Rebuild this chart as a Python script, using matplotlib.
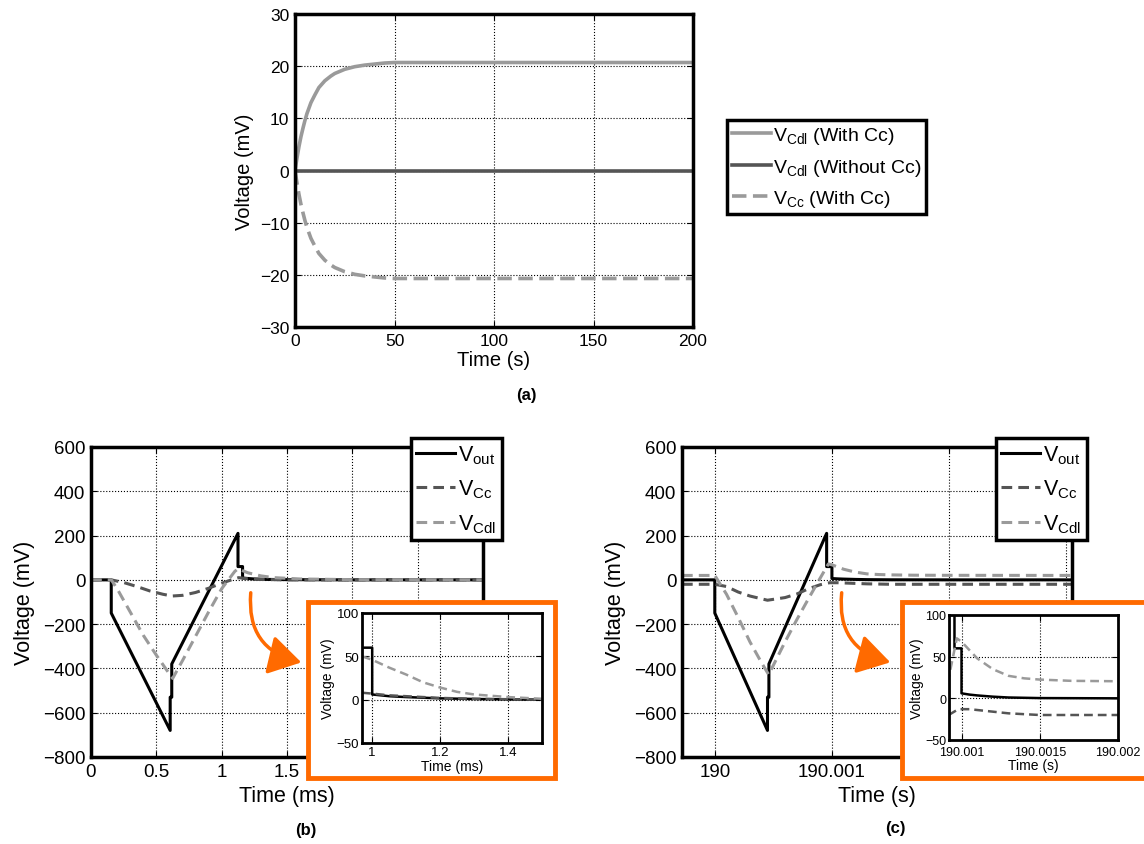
import matplotlib
matplotlib.use('Agg')
import matplotlib.pyplot as plt
from matplotlib.patches import Rectangle, FancyArrowPatch
from matplotlib.ticker import FuncFormatter

# ---- panel (a): long time response (s, mV)
t_a = [0, 1, 2, 3, 4, 5, 6, 8, 10, 12, 15, 18, 20, 25, 30, 35, 40, 45, 50, 60, 80, 100, 150, 200]
vcdl_cc_a = [0, 2.4, 4.6, 6.5, 8.1, 9.6, 10.9, 13.0, 14.5, 15.9, 17.2, 18.1, 18.6, 19.4,
             19.9, 20.2, 20.4, 20.6, 20.7, 20.7, 20.7, 20.7, 20.7, 20.7]
vcc_cc_a = [0, -2.4, -4.6, -6.5, -8.1, -9.6, -10.9, -13.0, -14.5, -15.9, -17.2, -18.1, -18.6, -19.4,
            -19.9, -20.2, -20.4, -20.6, -20.7, -20.7, -20.7, -20.7, -20.7, -20.7]
t_flat_a = [0, 200]
vcdl_nocc_a = [0, 0]
labels_a = [r'V$_{\mathrm{Cdl}}$ (With Cc)', r'V$_{\mathrm{Cdl}}$ (Without Cc)', r'V$_{\mathrm{Cc}}$ (With Cc)']

# ---- panel (b): first pulse (ms, mV)
t_out_b = [0, 0.155, 0.155, 0.606, 0.606, 0.618, 0.618, 1.125, 1.125, 1.16, 1.16, 1.25, 1.35, 1.5, 2.0, 3.0]
v_out_b = [0, 0, -150, -680, -530, -530, -380, 210, 60, 60, 8, 4, 2, 1, 0, 0]
t_cc_b = [0, 0.155, 0.25, 0.35, 0.45, 0.55, 0.62, 0.7, 0.8, 0.9, 1.0, 1.1, 1.13, 1.2, 1.3, 1.5, 3.0]
v_cc_b = [0, 0, -12, -30, -50, -65, -73, -70, -57, -38, -15, 5, 10, 5, 2, 0, 0]
t_cdl_b = [0, 0.155, 0.2, 0.3, 0.4, 0.5, 0.6, 0.625, 0.7, 0.8, 0.9, 1.0, 1.1, 1.125,
           1.2, 1.3, 1.4, 1.6, 2.0, 3.0]
v_cdl_b = [0, 0, -40, -145, -250, -340, -425, -445, -365, -255, -145, -40, 38, 50,
           32, 18, 10, 4, 1, 0]
ticks_b = [0, 0.5, 1, 1.5, 2, 2.5, 3]
ticklabels_b = ['0', '0.5', '1', '1.5', '', '', '']   # the rest sit under the inset

# inset of (b)
t_out_ib = [0.97, 1.0, 1.0, 1.05, 1.1, 1.2, 1.3, 1.4, 1.5]
v_out_ib = [60, 60, 6, 4, 3, 1.5, 0.8, 0.3, 0]
t_cc_ib = [0.97, 1.0, 1.05, 1.1, 1.2, 1.3, 1.4, 1.5]
v_cc_ib = [8, 7, 5, 4, 2, 1, 0.5, 0]
t_cdl_ib = [0.97, 1.0, 1.05, 1.1, 1.15, 1.2, 1.25, 1.3, 1.4, 1.5]
v_cdl_ib = [50, 46, 37, 29, 20, 14, 9, 6, 3, 1]

# ---- panel (c): pulse after 190 s (s, mV)
t_out_c = [189.99972, 190.0, 190.0, 190.00045, 190.00045, 190.000462, 190.000462, 190.000955,
           190.000955, 190.001, 190.001, 190.00105, 190.0011, 190.0012, 190.0013, 190.0015,
           190.002, 190.00305]
v_out_c = [0, 0, -150, -680, -530, -530, -380, 210, 60, 60, 6, 4.5, 3.5, 2, 1, 0.3, 0, 0]
t_cc_c = [189.99972, 190.0, 190.0001, 190.0002, 190.0003, 190.00045, 190.0006, 190.0007,
          190.0008, 190.0009, 190.00098, 190.00105, 190.0011, 190.0012, 190.0013, 190.0015,
          190.002, 190.00305]
v_cc_c = [-20, -20, -30, -55, -73, -92, -80, -64, -40, -22, -13, -13, -14, -16, -18, -20, -20, -20]
t_cdl_c = [189.99972, 190.0, 190.0001, 190.0002, 190.0003, 190.0004, 190.00046, 190.0006,
           190.0007, 190.0008, 190.0009, 190.00097, 190.001, 190.00105, 190.0011, 190.0012,
           190.0013, 190.0014, 190.0015, 190.0017, 190.002, 190.00305]
v_cdl_c = [20, 20, -65, -170, -280, -375, -428, -280, -180, -85, 8, 72, 68, 58, 48, 35,
           27, 24, 22.5, 21, 20.5, 20]
ticks_c = [190, 190.001, 190.002, 190.003]
ticklabels_c = ['190', '190.001', '', '']   # the rest sit under the inset

labels_bc = [r'V$_{\mathrm{out}}$', r'V$_{\mathrm{Cc}}$', r'V$_{\mathrm{Cdl}}$']

LIGHT = '#9a9a9a'
DARK = '#555555'
ORANGE = '#ff6a00'
W, H = 1144, 845

plt.rcParams['font.family'] = ['Liberation Sans', 'DejaVu Sans']
plt.rcParams['mathtext.fontset'] = 'custom'
plt.rcParams['mathtext.rm'] = 'Liberation Sans'
plt.rcParams['mathtext.it'] = 'Liberation Sans:italic'
plt.rcParams['mathtext.bf'] = 'Liberation Sans:bold'
plt.rcParams['axes.unicode_minus'] = True


def px_axes(fig, left, top, right, bottom):
    # place an axes from pixel box (y measured from the top)
    return fig.add_axes([left / W, 1 - bottom / H, (right - left) / W, (bottom - top) / H])


def style(ax, spine_lw, tick_size):
    for s in ax.spines.values():
        s.set_linewidth(spine_lw)
    ax.tick_params(direction='in', top=True, right=True, length=4, width=0.8,
                   labelsize=tick_size, pad=4)
    ax.grid(True, linestyle=':', color='k', linewidth=0.8)
    ax.set_axisbelow(True)


def three_lines(ax, data, lw, dash):
    (to, vo), (tc, vc), (td, vd) = data
    h1, = ax.plot(to, vo, color='k', lw=lw)
    h2, = ax.plot(tc, vc, color=DARK, lw=lw, dashes=dash)
    h3, = ax.plot(td, vd, color=LIGHT, lw=lw, dashes=dash)
    return [h1, h2, h3]


fmt7 = FuncFormatter(lambda v, p: '{:.7g}'.format(v))

fig = plt.figure(figsize=(W / 100, H / 100), dpi=100)

# ---------------- (a)
ax_a = px_axes(fig, 295, 15, 693, 328)
style(ax_a, 2.5, 12.5)
l1, = ax_a.plot(t_a, vcdl_cc_a, color=LIGHT, lw=2.6)
l2, = ax_a.plot(t_flat_a, vcdl_nocc_a, color=DARK, lw=2.6)
l3, = ax_a.plot(t_a, vcc_cc_a, color=LIGHT, lw=2.6, dashes=(4, 1.8))
ax_a.set_xlim(0, 200)
ax_a.set_ylim(-30, 30)
ax_a.set_xticks([0, 50, 100, 150, 200])
ax_a.set_yticks([-30, -20, -10, 0, 10, 20, 30])
ax_a.set_xlabel('Time (s)', fontsize=14.5, labelpad=2)
ax_a.set_ylabel('Voltage (mV)', fontsize=14.5, labelpad=4)
leg_a = fig.legend([l1, l2, l3], labels_a, loc='upper left',
                   bbox_to_anchor=(727 / W, 1 - 121 / H), fontsize=14,
                   frameon=True, fancybox=False, framealpha=1, borderpad=0.25,
                   labelspacing=0.55, handlelength=2.0, handletextpad=0.1, borderaxespad=0)
leg_a.get_frame().set_edgecolor('k')
leg_a.get_frame().set_linewidth(2.5)
fig.text(526 / W, 1 - 396 / H, '(a)', fontsize=12, fontweight='bold', ha='center', va='center')

# ---------------- (b)
ax_b = px_axes(fig, 91, 448, 483, 758)
style(ax_b, 2.5, 13.5)
hb = three_lines(ax_b, [(t_out_b, v_out_b), (t_cc_b, v_cc_b), (t_cdl_b, v_cdl_b)], 2.2, (3.5, 2))
ax_b.set_xlim(0, 3)
ax_b.set_ylim(-800, 600)
ax_b.set_xticks(ticks_b)
ax_b.set_xticklabels(ticklabels_b)
ax_b.set_yticks(range(-800, 601, 200))
ax_b.set_xlabel('Time (ms)', fontsize=15.5, labelpad=4)
ax_b.set_ylabel('Voltage (mV)', fontsize=15.5, labelpad=6)
fig.text(306 / W, 1 - 831 / H, '(b)', fontsize=12, fontweight='bold', ha='center', va='center')

# ---------------- (c)
ax_c = px_axes(fig, 682, 448, 1072, 758)
style(ax_c, 2.5, 13.5)
hc = three_lines(ax_c, [(t_out_c, v_out_c), (t_cc_c, v_cc_c), (t_cdl_c, v_cdl_c)], 2.2, (3.5, 2))
ax_c.set_xlim(189.99972, 190.00305)
ax_c.set_ylim(-800, 600)
ax_c.set_xticks(ticks_c)
ax_c.set_xticklabels(ticklabels_c)
ax_c.set_yticks(range(-800, 601, 200))
ax_c.set_xlabel('Time (s)', fontsize=15.5, labelpad=4)
ax_c.set_ylabel('Voltage (mV)', fontsize=15.5, labelpad=6)
fig.text(895 / W, 1 - 829 / H, '(c)', fontsize=12, fontweight='bold', ha='center', va='center')

for ax, handles, x0 in [(ax_b, hb, 411), (ax_c, hc, 996)]:
    leg = ax.legend(handles, labels_bc, loc='upper left',
                    bbox_to_anchor=(x0 / W, 1 - 439 / H), bbox_transform=fig.transFigure,
                    fontsize=15.5, frameon=True, fancybox=False, framealpha=1,
                    borderpad=0.25, labelspacing=0.55, handlelength=1.8,
                    handletextpad=0.15, borderaxespad=0)
    leg.get_frame().set_edgecolor('k')
    leg.get_frame().set_linewidth(2.5)

# ---------------- orange boxes, arrows, insets
for (l, t, r, b) in [(308, 603, 555, 779), (902, 603, 1160, 779)]:
    fig.add_artist(Rectangle((l / W, 1 - b / H), (r - l) / W, (b - t) / H,
                             transform=fig.transFigure, facecolor='white',
                             edgecolor=ORANGE, linewidth=3.5, zorder=5))

for (x1, y1, x2, y2) in [(251, 591, 304, 664), (842, 591, 893, 664)]:
    fig.add_artist(FancyArrowPatch((x1 / W, 1 - y1 / H), (x2 / W, 1 - y2 / H),
                                   transform=fig.transFigure,
                                   connectionstyle='arc3,rad=0.45',
                                   arrowstyle='-|>,head_length=0.9,head_width=0.55',
                                   mutation_scale=22, color=ORANGE, linewidth=2.5, zorder=6))

ax_ib = px_axes(fig, 362, 614, 542, 744)
ax_ib.set_zorder(10)
style(ax_ib, 2.0, 9.5)
three_lines(ax_ib, [(t_out_ib, v_out_ib), (t_cc_ib, v_cc_ib), (t_cdl_ib, v_cdl_ib)], 1.8, (3.5, 2))
ax_ib.set_xlim(0.97, 1.5)
ax_ib.set_ylim(-50, 100)
ax_ib.set_xticks([1, 1.2, 1.4])
ax_ib.set_xticklabels(['1', '1.2', '1.4'])
ax_ib.set_yticks([-50, 0, 50, 100])
ax_ib.tick_params(pad=2)
ax_ib.set_xlabel('Time (ms)', fontsize=10, labelpad=1)
ax_ib.set_ylabel('Voltage (mV)', fontsize=10, labelpad=1)

ax_ic = px_axes(fig, 949, 616, 1118, 741)
ax_ic.set_zorder(10)
style(ax_ic, 2.0, 9)
three_lines(ax_ic, [(t_out_c, v_out_c), (t_cc_c, v_cc_c), (t_cdl_c, v_cdl_c)], 1.8, (3.5, 2))
ax_ic.set_xlim(190.00092, 190.002)
ax_ic.set_ylim(-50, 100)
ax_ic.set_xticks([190.001, 190.0015, 190.002])
ax_ic.xaxis.set_major_formatter(fmt7)
ax_ic.set_yticks([-50, 0, 50, 100])
ax_ic.tick_params(axis='y', pad=2)
ax_ic.tick_params(axis='x', pad=4)
ax_ic.set_xlabel('Time (s)', fontsize=10, labelpad=0)
ax_ic.set_ylabel('Voltage (mV)', fontsize=10, labelpad=1)

fig.savefig('out.png', dpi=100)
